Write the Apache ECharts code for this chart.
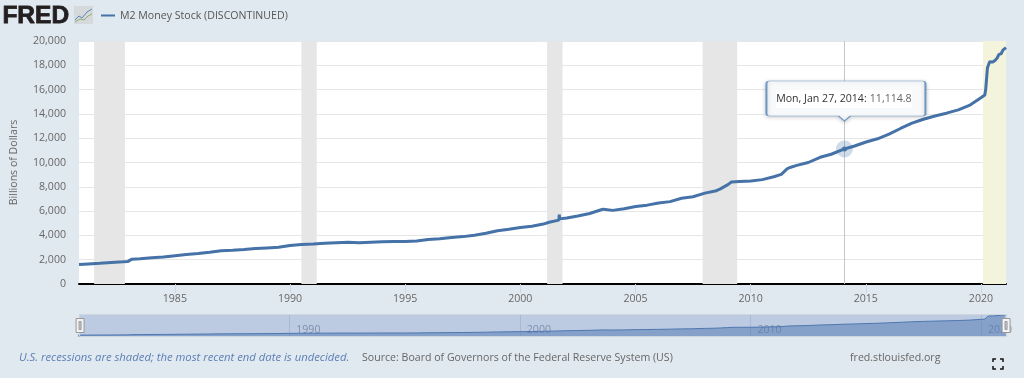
<!DOCTYPE html>
<html>
<head>
<meta charset="utf-8">
<title>M2 Money Stock</title>
<script src="https://cdn.jsdelivr.net/npm/echarts@6/dist/echarts.min.js"></script>
<style>
html, body { margin: 0; padding: 0; background: #e1e9f0; }
#chart { width: 1024px; height: 378px; }
</style>
</head>
<body>
<div id="chart"></div>
<script>
var seriesName = 'M2 Money Stock (DISCONTINUED)';

// billions of dollars
var dates = [
  '1980-11-03','1981-04-01','1981-10-01','1982-04-01','1982-10-01','1982-12-20','1983-02-14','1983-07-01','1984-01-02','1984-07-02',
  '1985-01-07','1985-07-01','1986-01-06','1986-07-07','1987-01-05','1987-07-06','1988-01-04','1988-07-04','1989-01-02','1989-07-03',
  '1990-01-01','1990-07-02','1991-01-07','1991-07-01','1992-01-06','1992-07-06','1993-01-04','1993-07-05','1994-01-03','1994-07-04',
  '1995-01-02','1995-07-03','1996-01-01','1996-07-01','1997-01-06','1997-07-07','1998-01-05','1998-07-06','1999-01-04','1999-07-05',
  '2000-01-03','2000-07-03','2001-01-01','2001-04-02','2001-09-03','2001-09-10','2001-09-17','2002-01-07','2002-07-01','2003-01-06',
  '2003-07-07','2003-08-11','2004-01-05','2004-07-05','2005-01-03','2005-07-04','2006-01-02','2006-07-03','2007-01-01','2007-07-02',
  '2008-01-07','2008-07-07','2008-09-08','2009-01-05','2009-03-02','2009-07-06','2010-01-04','2010-07-05','2011-01-03','2011-05-02',
  '2011-08-01','2011-09-05','2012-01-02','2012-07-02','2013-01-07','2013-07-01','2014-01-27','2014-07-07','2015-01-05','2015-07-06',
  '2016-01-04','2016-07-04','2017-01-02','2017-07-03','2018-01-01','2018-07-02','2019-01-07','2019-07-01','2020-01-06','2020-03-02',
  '2020-03-16','2020-04-13','2020-05-18','2020-06-15','2020-07-06','2020-08-10','2020-09-14','2020-10-12','2020-11-16','2020-12-14',
  '2021-01-11','2021-02-01'
];
var m2Values = [
  1600,1650,1700,1770,1830,1860,2030,2080,2170,2230,
  2330,2420,2510,2620,2740,2780,2830,2920,2970,3020,
  3170,3250,3300,3360,3400,3430,3400,3440,3470,3490,
  3490,3530,3660,3730,3830,3900,4020,4170,4380,4510,
  4650,4760,4930,5080,5260,5700,5360,5440,5600,5800,
  6110,6160,6060,6190,6380,6490,6670,6780,7060,7180,
  7480,7680,7830,8180,8390,8430,8480,8590,8830,9020,
  9480,9570,9760,10000,10430,10680,11114.8,11360,11690,11950,
  12340,12800,13240,13560,13830,14060,14330,14700,15350,15550,
  16000,17800,18300,18440,18280,18400,18600,18900,18950,19250,
  19150,19450
];

var yTicks = { min: 0, max: 20000, interval: 2000 };
var tickYears = [1985, 1990, 1995, 2000, 2005, 2010, 2015, 2020];
var navYears = [1990, 2000, 2010, 2020];
var recessions = [
  ['1981-07-01', '1982-11-01'],
  ['1990-07-01', '1991-03-01'],
  ['2001-03-01', '2001-11-01'],
  ['2007-12-01', '2009-06-01']
];
var openRecession = ['2020-02-01', '2021-02-01'];
var hoverDate = '2014-01-27';
var hoverValue = 11114.8;
var hoverLabel = 'Mon, Jan 27, 2014:';
var hoverText = '11,114.8';

var FONT = '"Open Sans", sans-serif';
var firstDay = Date.parse('1980-11-03');
var lastDay = Date.parse('2021-02-01');

// plain numeric x axis in ms: the time axis falls over on customValues
var m2Data = dates.map(function (d, i) { return [Date.parse(d), m2Values[i]]; });
function yearTime(y) { return Date.UTC(y, 0, 1); }
function yearLabel(v) { return new Date(v).getUTCFullYear() + ''; }

var bands = recessions.map(function (r) {
  return [{ xAxis: Date.parse(r[0]), itemStyle: { color: '#e6e6e6' } }, { xAxis: Date.parse(r[1]) }];
});
bands.push([{ xAxis: Date.parse(openRecession[0]), itemStyle: { color: '#f4f3dc' } }, { xAxis: Date.parse(openRecession[1]) }]);

var chart = echarts.init(document.getElementById('chart'));
chart.setOption({
  animation: false,
  backgroundColor: '#e1e9f0',
  textStyle: { fontFamily: FONT },
  legend: {
    left: 96, top: 5,
    data: [seriesName],
    icon: 'rect', itemWidth: 14, itemHeight: 2, itemGap: 5,
    textStyle: { color: '#555', fontSize: 10.6, fontFamily: FONT }
  },
  grid: [
    { left: 78, right: 18, top: 41, height: 243, show: true, backgroundColor: '#fff', borderWidth: 0 },
    { left: 78, right: 18, top: 314, height: 23, show: false }
  ],
  xAxis: [
    {
      type: 'value', gridIndex: 0, min: firstDay, max: lastDay,
      axisLine: { lineStyle: { color: '#000', width: 2 } },
      axisTick: { length: 9, lineStyle: { color: '#ccd6eb' }, customValues: tickYears.map(yearTime) },
      axisLabel: {
        color: '#666', fontSize: 10.6, margin: 9, fontFamily: FONT, hideOverlap: false,
        customValues: tickYears.map(yearTime), formatter: yearLabel
      },
      splitLine: { show: false }
    },
    {
      type: 'value', gridIndex: 1, min: firstDay, max: lastDay,
      axisLine: { show: false },
      axisTick: { inside: true, length: 23, lineStyle: { color: '#c4cfe2' }, customValues: navYears.map(yearTime) },
      axisLabel: {
        inside: true, color: '#8c96a3', fontSize: 10.6, margin: 2, align: 'left', padding: [0, 0, 0, 7], fontFamily: FONT,
        customValues: navYears.map(yearTime), formatter: yearLabel
      },
      splitLine: { show: false }
    }
  ],
  yAxis: [
    {
      type: 'value', gridIndex: 0, min: yTicks.min, max: yTicks.max, interval: yTicks.interval,
      name: 'Billions of Dollars', nameLocation: 'middle', nameGap: 60,
      nameTextStyle: { color: '#666', fontSize: 10.6, fontFamily: FONT },
      axisLine: { show: false },
      axisTick: { show: false },
      axisLabel: {
        color: '#666', fontSize: 10.6, margin: 13, fontFamily: FONT,
        formatter: function (v) { return v.toLocaleString('en-US'); }
      },
      splitLine: { lineStyle: { color: '#e6e6e6' } }
    },
    {
      type: 'value', gridIndex: 1, min: yTicks.min, max: yTicks.max,
      axisLine: { show: false }, axisTick: { show: false }, axisLabel: { show: false }, splitLine: { show: false }
    }
  ],
  dataZoom: [{
    type: 'slider', xAxisIndex: 0, filterMode: 'none', start: 0, end: 100,
    left: 78, right: 18, top: 314, height: 23,
    backgroundColor: 'transparent', borderColor: '#d0d6dd',
    fillerColor: 'rgba(102,133,194,0.3)',
    showDetail: false, showDataShadow: false, brushSelect: false, moveHandleSize: 0,
    handleIcon: 'path://M0 0H8V14H0Z M3 3V11H5V3Z',
    handleSize: 14,
    handleStyle: { color: '#f2f2f2', borderColor: '#999', borderWidth: 1 }
  }],
  series: [
    {
      name: seriesName, type: 'line', xAxisIndex: 0, yAxisIndex: 0,
      data: m2Data, showSymbol: false, symbol: 'none',
      lineStyle: { color: '#4572a7', width: 3 },
      itemStyle: { color: '#4572a7' },
      z: 3,
      markArea: { silent: true, data: bands },
      markLine: {
        silent: true, symbol: 'none', label: { show: false }, z: 2,
        lineStyle: { color: '#c4c8cc', width: 1, type: 'solid' },
        data: [{ xAxis: Date.parse(hoverDate) }]
      },
      markPoint: {
        silent: true, z: 10,
        data: [
          {
            coord: [Date.parse(hoverDate), hoverValue], symbol: 'circle', symbolSize: 17,
            itemStyle: { color: 'rgba(69,114,167,0.25)' }, label: { show: false }
          },
          {
            coord: [Date.parse(hoverDate), hoverValue], symbol: 'circle', symbolSize: 5,
            itemStyle: { color: '#4572a7' }, label: { show: false }
          },
          {
            coord: [Date.parse(hoverDate), hoverValue],
            symbol: 'path://M3 0H156Q159 0 159 3V32Q159 35 156 35H84L78 40L72 35H3Q0 35 0 32V3Q0 0 3 0Z',
            symbolSize: [159, 40], symbolOffset: [1.5, -48],
            itemStyle: {
              color: '#f8f9fa', borderColor: '#6f97c6', borderWidth: 1,
              shadowBlur: 4, shadowColor: 'rgba(0,0,0,0.2)', shadowOffsetY: 1
            },
            label: {
              show: true, position: 'inside', offset: [-2, -2],
              formatter: '{a|' + hoverLabel + '} {b|' + hoverText + '}',
              backgroundColor: '#fff', padding: [3, 0],
              rich: {
                a: { color: '#333', fontSize: 10.6, fontFamily: FONT },
                b: { color: '#666', fontSize: 10.6, fontFamily: FONT }
              }
            }
          }
        ]
      }
    },
    {
      name: 'navigator', type: 'line', xAxisIndex: 1, yAxisIndex: 1,
      data: m2Data, showSymbol: false, symbol: 'none', silent: true,
      lineStyle: { color: '#4572a7', width: 1 },
      areaStyle: { color: 'rgba(69,114,167,0.5)', opacity: 1 }
    }
  ],
  graphic: [
    {
      type: 'text', left: 2, top: 3,
      style: { text: 'FRED', fill: '#231f20', stroke: '#231f20', lineWidth: 0.8, font: 'bold 24.5px "Liberation Sans"' }
    },
    { type: 'rect', shape: { x: 74, y: 6, width: 19, height: 18 }, style: { fill: '#d5d9dc' } },
    {
      type: 'polyline', shape: { points: [[75, 20], [79, 16], [82, 18], [87, 12], [92, 9]] },
      style: { stroke: '#5b87b8', lineWidth: 1, fill: null }
    },
    {
      type: 'polyline', shape: { points: [[75, 22], [80, 19], [84, 20], [88, 16], [92, 14]] },
      style: { stroke: '#8fae6a', lineWidth: 1, fill: null }
    },
    {
      type: 'text', left: 19, top: 352,
      style: { text: 'U.S. recessions are shaded; the most recent end date is undecided.', fill: '#5b7fb5', font: 'italic 11.3px ' + FONT }
    },
    {
      type: 'text', left: 362, top: 352,
      style: { text: 'Source: Board of Governors of the Federal Reserve System (US)', fill: '#666', font: '10.6px ' + FONT }
    },
    {
      type: 'text', left: 850, top: 352,
      style: { text: 'fred.stlouisfed.org', fill: '#666', font: '10.6px ' + FONT }
    },
    // fullscreen button corners
    { type: 'polyline', shape: { points: [[993, 362], [993, 359], [996, 359]] }, style: { stroke: '#111', lineWidth: 1.5, fill: null } },
    { type: 'polyline', shape: { points: [[1000, 359], [1003, 359], [1003, 362]] }, style: { stroke: '#111', lineWidth: 1.5, fill: null } },
    { type: 'polyline', shape: { points: [[993, 366], [993, 369], [996, 369]] }, style: { stroke: '#111', lineWidth: 1.5, fill: null } },
    { type: 'polyline', shape: { points: [[1000, 369], [1003, 369], [1003, 366]] }, style: { stroke: '#111', lineWidth: 1.5, fill: null } }
  ]
});
</script>
</body>
</html>
